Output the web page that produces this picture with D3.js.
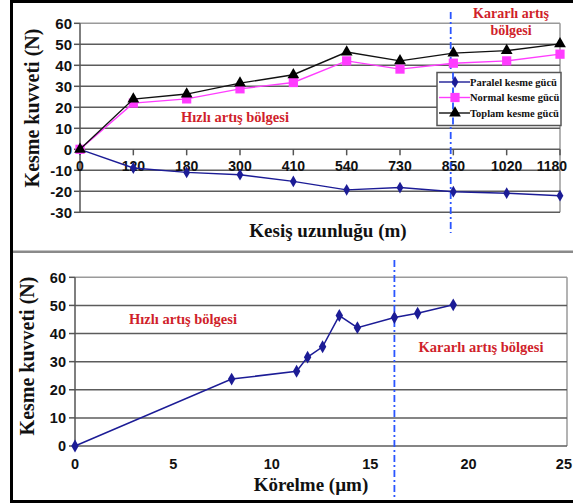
<!DOCTYPE html>
<html>
<head>
<meta charset="utf-8">
<script src="https://cdn.jsdelivr.net/npm/d3@7"></script>
<style>
  body { margin: 0; background: #fff; }
  .tick-lbl { font-family: "Liberation Sans", Arial, sans-serif; font-weight: bold; fill: #111; }
  .title { font-family: "Liberation Serif", "Times New Roman", serif; font-weight: bold; fill: #111; }
  .zone { font-family: "Liberation Serif", "Times New Roman", serif; font-weight: bold; fill: #d01f2b; }
  .legend-txt { font-family: "Liberation Serif", "Times New Roman", serif; font-weight: bold; fill: #111; font-size: 10.5px; }
</style>
</head>
<body>
<div id="chart"></div>
<script>
// top chart data
var lengths = ["0", "120", "180", "300", "410", "540", "730", "850", "1020", "1180"];
var paralel = [0, -8.9, -11, -12.1, -15.3, -19.3, -18.2, -20.2, -20.9, -22.1];
var normal  = [0, 22, 24, 28.8, 31.8, 42.1, 38.2, 41, 42.1, 45.3];
var toplam  = [0, 23.9, 26.3, 31.5, 35.5, 46.3, 42.1, 45.8, 47, 50.2];
var topYTicks = [60, 50, 40, 30, 20, 10, 0, -10, -20, -30];

// bottom chart data
var korelme = [0, 7.96, 11.26, 11.82, 12.58, 13.43, 14.35, 16.23, 17.41, 19.22];
var kuvvet  = [0, 23.8, 26.6, 31.6, 35.3, 46.4, 42.1, 45.7, 47.2, 50.2];
var botYTicks = [0, 10, 20, 30, 40, 50, 60];
var botXTicks = [0, 5, 10, 15, 20, 25];

var W = 573, H = 504;
var svg = d3.select("#chart").append("svg")
    .attr("width", W)
    .attr("height", H);

var gridCol = "#5c5c5c", frameCol = "#9a9a9a";
var navy = "#1c1c96", pink = "#ff3cff", dashBlue = "#2a55ff";

// ---------- top chart ----------
var x1 = d3.scalePoint().domain(lengths).range([80, 560]);
var y1 = d3.scaleLinear().domain([-30, 60]).range([212.3, 23.3]);

var gTop = svg.append("g");

// frame
gTop.append("line").attr("x1", 80).attr("x2", 560).attr("y1", y1(60)).attr("y2", y1(60))
    .attr("stroke", frameCol).attr("stroke-width", 1.5);
gTop.append("line").attr("x1", 560).attr("x2", 560).attr("y1", y1(60)).attr("y2", y1(-30))
    .attr("stroke", frameCol).attr("stroke-width", 1.5);

gTop.selectAll(".grid").data(topYTicks.filter(function(d) { return d != 60; })).enter()
  .append("line")
    .attr("x1", 80).attr("x2", 560)
    .attr("y1", function(d) { return y1(d); })
    .attr("y2", function(d) { return y1(d); })
    .attr("stroke", gridCol).attr("stroke-width", 1.5);

// y axis
gTop.append("line").attr("x1", 80).attr("x2", 80).attr("y1", y1(60)).attr("y2", y1(-30))
    .attr("stroke", "#555").attr("stroke-width", 1.5);
gTop.selectAll(".yt").data(topYTicks).enter().append("line")
    .attr("x1", 74).attr("x2", 80)
    .attr("y1", function(d) { return y1(d); })
    .attr("y2", function(d) { return y1(d); })
    .attr("stroke", "#555").attr("stroke-width", 1.5);
gTop.selectAll(".yl").data(topYTicks).enter().append("text")
    .attr("class", "tick-lbl")
    .attr("x", 72)
    .attr("y", function(d) { return y1(d); })
    .attr("dy", "0.36em")
    .attr("text-anchor", "end")
    .style("font-size", "15px")
    .text(function(d) { return d; });

// category ticks and labels on zero line
gTop.selectAll(".xt").data(lengths).enter().append("line")
    .attr("x1", function(d) { return x1(d); })
    .attr("x2", function(d) { return x1(d); })
    .attr("y1", y1(0)).attr("y2", y1(0) + 6)
    .attr("stroke", "#555").attr("stroke-width", 1.5);
var lastLen = lengths[lengths.length - 1];
gTop.selectAll(".xl").data(lengths).enter().append("text")
    .attr("class", "tick-lbl")
    .attr("x", function(d) { return d == lastLen ? x1(d) + 7 : x1(d); })
    .attr("y", 170.5)
    .attr("text-anchor", function(d) { return d == lastLen ? "end" : "middle"; })
    .style("font-size", "14px")
    .text(function(d) { return d; });

// dash-dot separator
gTop.append("line").attr("x1", 450.7).attr("x2", 450.7).attr("y1", 12).attr("y2", 233)
    .attr("stroke", dashBlue).attr("stroke-width", 1.8)
    .attr("stroke-dasharray", "7,3,2,3");

// series
var line1 = d3.line()
    .x(function(d, i) { return x1(lengths[i]); })
    .y(function(d) { return y1(d); });

var series = [
  {vals: paralel, color: navy, stroke: navy, sym: d3.symbolDiamond, size: 40, name: "Paralel kesme gücü"},
  {vals: normal, color: pink, stroke: pink, sym: d3.symbolSquare, size: 85, name: "Normal kesme gücü"},
  {vals: toplam, color: "#000", stroke: "#111", sym: d3.symbolTriangle, size: 60, name: "Toplam kesme gücü"}
];

series.forEach(function(s) {
  gTop.append("path")
      .attr("d", line1(s.vals))
      .attr("fill", "none")
      .attr("stroke", s.stroke)
      .attr("stroke-width", 1.4);
  gTop.selectAll(null).data(s.vals).enter().append("path")
      .attr("d", d3.symbol().type(s.sym).size(s.size))
      .attr("transform", function(d, i) { return "translate(" + x1(lengths[i]) + "," + y1(d) + ")"; })
      .attr("fill", s.color);
});

// legend
var lg = gTop.append("g");
lg.append("rect").attr("x", 437).attr("y", 72.5).attr("width", 124).attr("height", 53)
    .attr("fill", "#fff").attr("stroke", "#555").attr("stroke-width", 1.5);
lg.append("line").attr("x1", 453).attr("x2", 453).attr("y1", 72.5).attr("y2", 125.5)
    .attr("stroke", dashBlue).attr("stroke-width", 1.8).attr("stroke-dasharray", "7,3,2,3");
series.forEach(function(s, i) {
  var yy = 82 + i * 15.5;
  lg.append("line").attr("x1", 439).attr("x2", 470).attr("y1", yy).attr("y2", yy)
      .attr("stroke", s.stroke).attr("stroke-width", 1.4);
  lg.append("path")
      .attr("d", d3.symbol().type(s.sym).size(s.size))
      .attr("transform", "translate(455," + yy + ")")
      .attr("fill", s.color);
  lg.append("text").attr("class", "legend-txt")
      .attr("x", 470).attr("y", yy).attr("dy", "0.35em")
      .text(s.name);
});

// texts
gTop.append("text").attr("class", "zone")
    .attr("x", 511).attr("y", 18).attr("text-anchor", "middle")
    .style("font-size", "14px").text("Kararlı artış");
gTop.append("text").attr("class", "zone")
    .attr("x", 511).attr("y", 35).attr("text-anchor", "middle")
    .style("font-size", "14px").text("bölgesi");
gTop.append("text").attr("class", "zone")
    .attr("x", 235).attr("y", 122).attr("text-anchor", "middle")
    .style("font-size", "14.5px").text("Hızlı artış bölgesi");

gTop.append("text").attr("class", "title")
    .attr("transform", "translate(39,108)rotate(-90)")
    .attr("text-anchor", "middle")
    .style("font-size", "20px")
    .text("Kesme kuvveti (N)");
gTop.append("text").attr("class", "title")
    .attr("x", 328).attr("y", 237).attr("text-anchor", "middle")
    .style("font-size", "19px")
    .text("Kesiş uzunluğu (m)");

// ---------- bottom chart ----------
var x2 = d3.scaleLinear().domain([0, 25]).range([75, 567]);
var y2 = d3.scaleLinear().domain([0, 60]).range([446, 277.3]);

var gBot = svg.append("g");

gBot.append("line").attr("x1", x2(0)).attr("x2", x2(25)).attr("y1", y2(60)).attr("y2", y2(60))
    .attr("stroke", frameCol).attr("stroke-width", 1.5);
gBot.append("line").attr("x1", x2(25)).attr("x2", x2(25)).attr("y1", y2(60)).attr("y2", y2(0))
    .attr("stroke", frameCol).attr("stroke-width", 1.5);
gBot.selectAll(".grid").data(botYTicks.filter(function(d) { return d != 60; })).enter()
  .append("line")
    .attr("x1", x2(0)).attr("x2", x2(25))
    .attr("y1", function(d) { return y2(d); })
    .attr("y2", function(d) { return y2(d); })
    .attr("stroke", gridCol).attr("stroke-width", 1.5);
gBot.append("line").attr("x1", x2(0)).attr("x2", x2(0)).attr("y1", y2(60)).attr("y2", y2(0))
    .attr("stroke", "#555").attr("stroke-width", 1.5);
gBot.selectAll(".yt").data(botYTicks).enter().append("line")
    .attr("x1", 69).attr("x2", 75)
    .attr("y1", function(d) { return y2(d); })
    .attr("y2", function(d) { return y2(d); })
    .attr("stroke", "#555").attr("stroke-width", 1.5);
gBot.selectAll(".yl").data(botYTicks).enter().append("text")
    .attr("class", "tick-lbl")
    .attr("x", 66)
    .attr("y", function(d) { return y2(d); })
    .attr("dy", "0.36em")
    .attr("text-anchor", "end")
    .style("font-size", "14.5px")
    .text(function(d) { return d; });
var lastX = botXTicks[botXTicks.length - 1];
gBot.selectAll(".xl").data(botXTicks).enter().append("text")
    .attr("class", "tick-lbl")
    .attr("x", function(d) { return d == lastX ? W - 1 : x2(d); })
    .attr("y", 468.5)
    .attr("text-anchor", function(d) { return d == lastX ? "end" : "middle"; })
    .style("font-size", "14.5px")
    .text(function(d) { return d; });

gBot.append("line").attr("x1", x2(16.23)).attr("x2", x2(16.23)).attr("y1", 260).attr("y2", 500)
    .attr("stroke", dashBlue).attr("stroke-width", 1.8)
    .attr("stroke-dasharray", "7,3,2,3");

var line2 = d3.line()
    .x(function(d, i) { return x2(korelme[i]); })
    .y(function(d) { return y2(d); });
gBot.append("path")
    .attr("d", line2(kuvvet))
    .attr("fill", "none")
    .attr("stroke", navy)
    .attr("stroke-width", 1.5);
gBot.selectAll(null).data(kuvvet).enter().append("path")
    .attr("d", d3.symbol().type(d3.symbolDiamond).size(48))
    .attr("transform", function(d, i) { return "translate(" + x2(korelme[i]) + "," + y2(d) + ")"; })
    .attr("fill", navy);

gBot.append("text").attr("class", "zone")
    .attr("x", 183).attr("y", 324).attr("text-anchor", "middle")
    .style("font-size", "14.5px").text("Hızlı artış bölgesi");
gBot.append("text").attr("class", "zone")
    .attr("x", 481).attr("y", 352).attr("text-anchor", "middle")
    .style("font-size", "14.5px").text("Kararlı artış bölgesi");

gBot.append("text").attr("class", "title")
    .attr("transform", "translate(34,356)rotate(-90)")
    .attr("text-anchor", "middle")
    .style("font-size", "20px")
    .text("Kesme kuvveti (N)");
gBot.append("text").attr("class", "title")
    .attr("x", 311).attr("y", 491).attr("text-anchor", "middle")
    .style("font-size", "19px")
    .text("Körelme (µm)");

// ---------- frame ----------
svg.append("line").attr("x1", 13).attr("x2", W).attr("y1", 251.7).attr("y2", 251.7)
    .attr("stroke", "#8a8a8a").attr("stroke-width", 2.5);
svg.append("path")
    .attr("d", "M" + W + ",1.5H11.5V501.5H" + W)
    .attr("fill", "none")
    .attr("stroke", "#000")
    .attr("stroke-width", 3);
</script>
</body>
</html>
